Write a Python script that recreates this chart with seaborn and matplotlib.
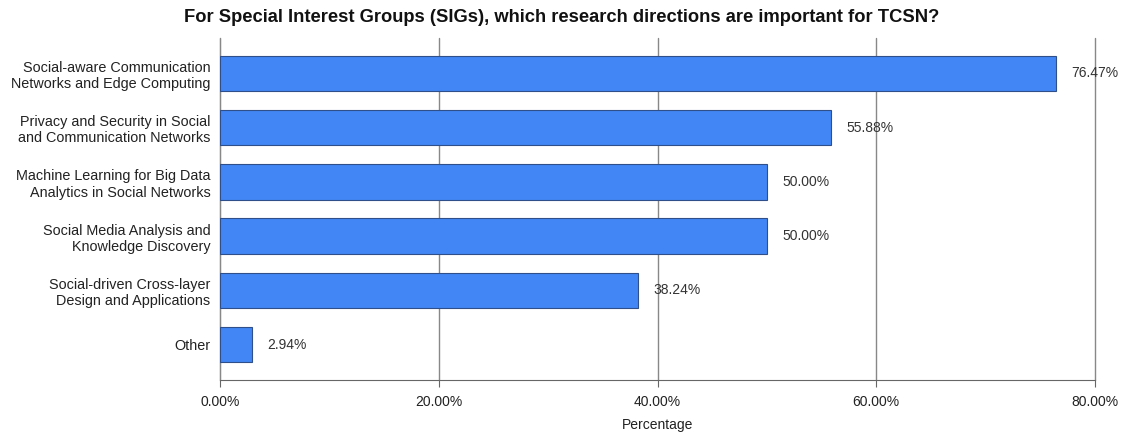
import matplotlib
matplotlib.use("Agg")
import matplotlib.pyplot as plt
import pandas as pd
import seaborn as sns
from matplotlib.ticker import FuncFormatter

# Survey answers
directions = [
    "Social-aware Communication\nNetworks and Edge Computing",
    "Privacy and Security in Social\nand Communication Networks",
    "Machine Learning for Big Data\nAnalytics in Social Networks",
    "Social Media Analysis and\nKnowledge Discovery",
    "Social-driven Cross-layer\nDesign and Applications",
    "Other",
]
percentages = [76.47, 55.88, 50.00, 50.00, 38.24, 2.94]

df = pd.DataFrame({"direction": directions, "pct": percentages})

sns.set_style("white")
plt.rcParams["font.family"] = ["Liberation Sans", "DejaVu Sans"]

fig = plt.figure(figsize=(11.24, 4.32), dpi=100)
ax = fig.add_axes([220 / 1124, 52 / 432, 875 / 1124, 342 / 432])

sns.barplot(data=df, x="pct", y="direction", orient="h", color="#4285F4",
            saturation=1, width=0.65, edgecolor="#2f4f8a", linewidth=0.8,
            ax=ax, zorder=3)

for i, v in enumerate(percentages):
    ax.text(v + 1.4, i, f"{v:.2f}%", va="center", ha="left",
            fontsize=10, color="#333333", zorder=4)

ax.set_xlim(0, 80)
ax.set_ylim(5.65, -0.65)
ax.set_xticks([0, 20, 40, 60, 80])
ax.xaxis.set_major_formatter(FuncFormatter(lambda x, _: f"{x:.2f}%"))
ax.grid(axis="x", color="#888888", linewidth=1, zorder=0)
for gl in ax.get_xgridlines():
    gl.set_clip_on(False)
ax.tick_params(axis="x", length=5, color="#666666", labelsize=10,
               labelcolor="#222222", pad=6, bottom=True)
ax.tick_params(axis="y", length=0, labelsize=10.4, labelcolor="#222222", pad=7)
for lbl in ax.get_yticklabels():
    lbl.set_horizontalalignment("right")
    lbl.set_multialignment("right")

for side in ["top", "right"]:
    ax.spines[side].set_visible(False)
ax.spines["left"].set_color("#888888")
ax.spines["bottom"].set_color("#666666")

ax.set_xlabel("Percentage", fontsize=10, color="#222222", labelpad=6)
ax.set_ylabel("")
fig.suptitle("For Special Interest Groups (SIGs), which research directions are important for TCSN?",
             x=0.5, y=0.98, fontsize=13.2, fontweight="bold", color="#111111")

fig.savefig("out.png", dpi=100)
